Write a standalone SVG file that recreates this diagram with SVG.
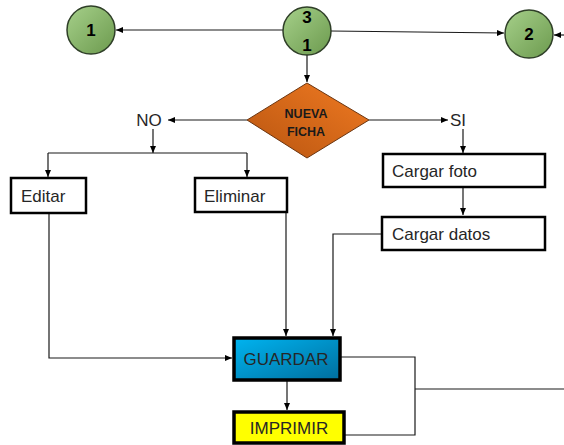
<svg xmlns="http://www.w3.org/2000/svg" width="564" height="445" viewBox="0 0 564 445">
<style>
.ln{fill:none;stroke:#1a1a1a;stroke-width:1.2}
.ar{fill:none;stroke:#1a1a1a;stroke-width:1.2;marker-end:url(#ah)}
.box{fill:#fff;stroke:#000;stroke-width:2.5}
.t{font-family:"Liberation Sans",Arial,sans-serif;font-size:17px;fill:#262626}
.c{fill:url(#gg);stroke:#2f3f28;stroke-width:1.5}
.ct{font-family:"Liberation Sans",Arial,sans-serif;font-size:17px;font-weight:bold;fill:#000;text-anchor:middle}
</style>
<defs>
<marker id="ah" markerWidth="8" markerHeight="8" refX="7" refY="4" orient="auto" markerUnits="userSpaceOnUse">
<path d="M0,1 L7,4 L0,7 Z" fill="#000"/>
</marker>
<linearGradient id="gg" x1="0" y1="0" x2="1" y2="1">
<stop offset="0" stop-color="#a6d08a"/><stop offset="1" stop-color="#6c9a4e"/>
</linearGradient>
<linearGradient id="og" x1="0" y1="1" x2="1" y2="0">
<stop offset="0" stop-color="#b85510"/><stop offset="1" stop-color="#f07a22"/>
</linearGradient>
<linearGradient id="bg" x1="0" y1="0" x2="1" y2="1">
<stop offset="0" stop-color="#00b4f0"/><stop offset="1" stop-color="#006e9e"/>
</linearGradient>
</defs>
<g id="connectors">
<path class="ar" d="M283,30 L116,30"/>
<path class="ar" d="M331,31 L504,33"/>
<path class="ar" d="M564,35 L554,35"/>
<path class="ar" d="M307,55 L307,82"/>
<path class="ar" d="M247,120 L168,120"/>
<path class="ar" d="M369,120 L448,120"/>
<path class="ar" d="M153,129 L153,153"/>
<path class="ln" d="M48,153 L247,153"/>
<path class="ar" d="M48,153 L48,177"/>
<path class="ar" d="M247,153 L247,177"/>
<path class="ar" d="M463,129 L463,153"/>
<path class="ar" d="M463,188 L463,215"/>
<path class="ar" d="M49,214 L49,358 L232,358"/>
<path class="ar" d="M286,213 L286,336"/>
<path class="ar" d="M381,234 L333,234 L333,336"/>
<path class="ar" d="M287,381 L287,410"/>
<path class="ln" d="M341,357 L415,357 L415,435 L345,435"/>
<path class="ln" d="M415,389 L564,389"/>
</g>
<g id="n1"><circle class="c" cx="91" cy="30" r="24"/><text class="ct" x="91" y="36">1</text></g>
<g id="n31"><circle class="c" cx="307" cy="31" r="24"/><text class="ct" x="307" y="23">3</text><text class="ct" x="307" y="51">1</text></g>
<g id="n2"><circle class="c" cx="529" cy="34" r="24"/><text class="ct" x="529" y="40">2</text></g>
<g id="nueva">
<path d="M307,83 L369,120 L307,158 L247,120 Z" fill="url(#og)" stroke="#6b3510" stroke-width="1"/>
<text font-family="'Liberation Sans',Arial,sans-serif" font-size="12.5" font-weight="bold" fill="#1a1a1a" text-anchor="middle"><tspan x="306" y="118">NUEVA</tspan><tspan x="306" y="136">FICHA</tspan></text>
</g>
<g id="no"><text class="t" x="149" y="126" text-anchor="middle">NO</text></g>
<g id="si"><text class="t" x="458" y="126" text-anchor="middle">SI</text></g>
<g id="editar"><rect class="box" x="11" y="178" width="75" height="35"/><text class="t" x="21" y="202">Editar</text></g>
<g id="eliminar"><rect class="box" x="195" y="178" width="92" height="34"/><text class="t" x="204" y="202">Eliminar</text></g>
<g id="foto"><rect class="box" x="383" y="154" width="162" height="33"/><text class="t" x="392" y="177">Cargar foto</text></g>
<g id="datos"><rect class="box" x="382" y="217" width="163" height="33"/><text class="t" x="392" y="240">Cargar datos</text></g>
<g id="guardar"><rect x="234" y="338" width="106" height="42" fill="url(#bg)" stroke="#000" stroke-width="3.5"/><text class="t" x="286" y="365" text-anchor="middle" fill="#1a1a1a">GUARDAR</text></g>
<g id="imprimir"><rect x="234" y="412" width="110" height="31" fill="#ffff00" stroke="#000" stroke-width="3.5"/><text class="t" x="289" y="434" text-anchor="middle" fill="#1a1a1a">IMPRIMIR</text></g>
</svg>
